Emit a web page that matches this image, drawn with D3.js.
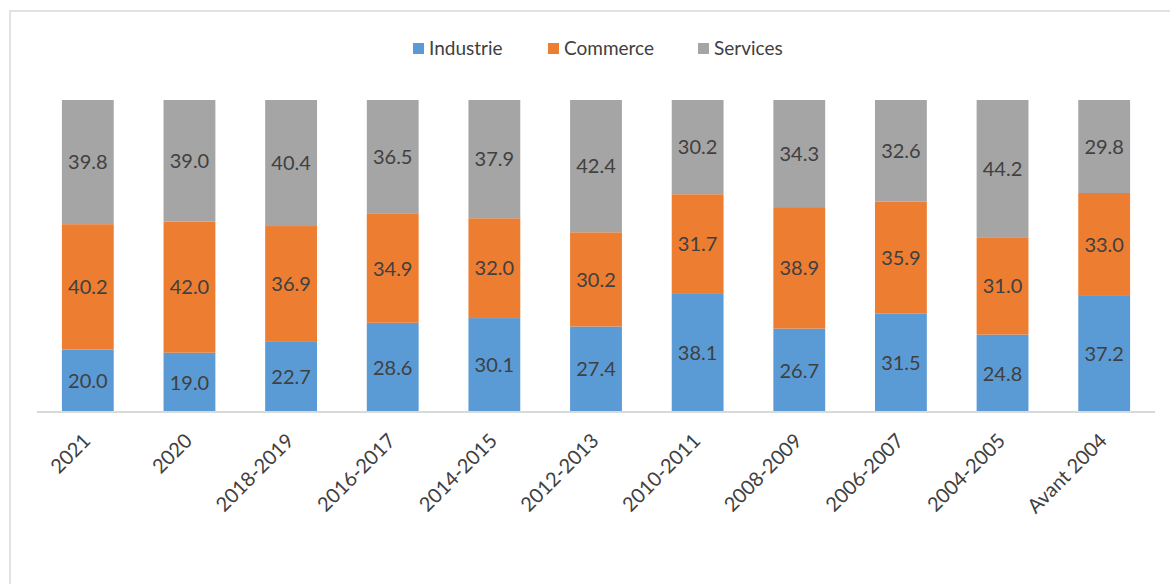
<!DOCTYPE html>
<html><head><meta charset="utf-8">
<script src="https://cdn.jsdelivr.net/npm/d3@7"></script>
<style>body{margin:0;background:#fff}svg{display:block}</style>
</head><body>
<svg id="c" width="1170" height="584"></svg>
<script>
const categories = ["2021","2020","2018-2019","2016-2017","2014-2015","2012-2013","2010-2011","2008-2009","2006-2007","2004-2005","Avant 2004"];
const industrie = [20.0,19.0,22.7,28.6,30.1,27.4,38.1,26.7,31.5,24.8,37.2];
const commerce  = [40.2,42.0,36.9,34.9,32.0,30.2,31.7,38.9,35.9,31.0,33.0];
const services  = [39.8,39.0,40.4,36.5,37.9,42.4,30.2,34.3,32.6,44.2,29.8];
const seriesNames = ["Industrie","Commerce","Services"];
const colors = ["#5B9BD5","#ED7D31","#A5A5A5"];

const svg = d3.select("#c");
const font = "Lato, 'Open Sans', sans-serif";

// frame
svg.append("rect").attr("x",10).attr("y",11).attr("width",1180).attr("height",600)
  .attr("fill","none").attr("stroke","#D9D9D9").attr("stroke-width",1.5);

const x = d3.scaleBand().domain(categories).range([37,1155]).paddingInner(0.49).paddingOuter(0.245);
const y = d3.scaleLinear().domain([0,100]).range([412,100]);

const rows = categories.map((c,i)=>({cat:c, Industrie:industrie[i], Commerce:commerce[i], Services:services[i]}));
const stack = d3.stack().keys(seriesNames).offset(d3.stackOffsetExpand);
const layers = stack(rows);

const g = svg.append("g");
layers.forEach((layer,li)=>{
  const lg = g.append("g");
  lg.selectAll("rect").data(layer).enter().append("rect")
    .attr("x",d=>x(d.data.cat)).attr("width",x.bandwidth())
    .attr("y",d=>y(d[1]*100)).attr("height",d=>y(d[0]*100)-y(d[1]*100))
    .attr("fill",colors[li]);
  lg.selectAll("text").data(layer).enter().append("text")
    .attr("x",d=>x(d.data.cat)+x.bandwidth()/2)
    .attr("y",d=>(y(d[0]*100)+y(d[1]*100))/2)
    .attr("dy","0.36em").attr("text-anchor","middle")
    .attr("font-family",font).attr("font-size",20).attr("fill","#404040")
    .text(d=>d.data[seriesNames[li]].toFixed(1));
});

// x axis
const xAxis = d3.axisBottom(x).tickSize(0).tickPadding(0);
const ax = svg.append("g").attr("transform","translate(0,412)").call(xAxis);
ax.select(".domain").attr("stroke","#D9D9D9").attr("stroke-width",2).attr("d","M37,0H1155");
ax.selectAll(".tick text")
  .attr("font-family",font).attr("font-size",20).attr("fill","#404040")
  .attr("text-anchor","end").attr("dy",0).attr("y",0)
  .attr("transform","translate(4,30) rotate(-45)");

// legend
const legendX = [413,548,698];
const lg = svg.append("g");
seriesNames.forEach((s,i)=>{
  lg.append("rect").attr("x",legendX[i]).attr("y",43).attr("width",11).attr("height",11).attr("fill",colors[i]);
  lg.append("text").attr("x",legendX[i]+16).attr("y",48.5).attr("dy","0.36em")
    .attr("font-family",font).attr("font-size",19).attr("fill","#404040").text(s);
});
</script>
</body></html>
